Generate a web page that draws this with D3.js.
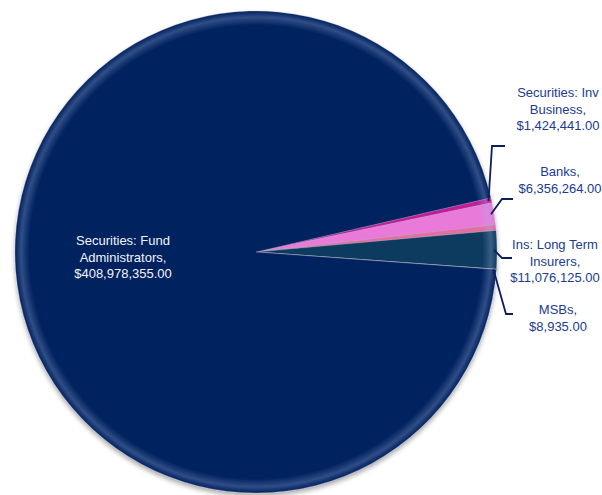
<!DOCTYPE html>
<html>
<head>
<meta charset="utf-8">
<script src="https://cdn.jsdelivr.net/npm/d3@7"></script>
<style>
  body { margin: 0; background: #fff; }
  svg { display: block; font-family: "Liberation Sans", Arial, sans-serif; }
</style>
</head>
<body>
<div id="chart"></div>
<script>
// data
var categories = ["Securities: Inv Business", "Banks", "Other", "Ins: Long Term Insurers", "MSBs", "Securities: Fund Administrators"],
    labelLines = [["Securities: Inv", "Business,"], ["Banks,"], [], ["Ins: Long Term", "Insurers,"], ["MSBs,"], ["Securities: Fund", "Administrators,"]],
    values = [1424441, 6356264, 1600000, 11076125, 8935, 408978355],
    colors = ["#c21a9c", "#ea7ad9", "#e46ea0", "#0b3b5e", "#8c93a6", "#03205e"];

var width = 602, height = 495,
    cx = 256, cy = 252, radius = 241;

// label layout: text centre x, first line y, leader line points after the rim
var labelLayout = [
    {x: 558, y: 97, leader: [[492, 146], [505, 146]]},
    {x: 560, y: 176, leader: [[502, 199], [513, 199]]},
    null,
    {x: 555, y: 249, leader: [[502, 258], [512, 258]]},
    {x: 558, y: 314, leader: [[506, 314], [513, 314]]},
    {x: 123, y: 245, inside: true}
];

var money = d3.format("$,.2f");

var svg = d3.select("#chart").append("svg")
    .attr("width", width)
    .attr("height", height);

var defs = svg.append("defs");
var shadow = defs.append("filter").attr("id", "shadow")
    .attr("x", "-10%").attr("y", "-10%").attr("width", "120%").attr("height", "120%");
shadow.append("feGaussianBlur").attr("in", "SourceAlpha").attr("stdDeviation", 2.5);
shadow.append("feOffset").attr("dx", 0).attr("dy", 2.5).attr("result", "off");
shadow.append("feComponentTransfer").append("feFuncA").attr("type", "linear").attr("slope", 0.35);
var merge = shadow.append("feMerge");
merge.append("feMergeNode");
merge.append("feMergeNode").attr("in", "SourceGraphic");

// soft bevel highlight near the rim (centred on pie centre)
var rim = defs.append("radialGradient").attr("id", "rim")
    .attr("cx", 0).attr("cy", 0).attr("r", radius).attr("gradientUnits", "userSpaceOnUse");
rim.append("stop").attr("offset", "0.94").attr("stop-color", "#9fb2e0").attr("stop-opacity", 0);
rim.append("stop").attr("offset", "0.975").attr("stop-color", "#9fb2e0").attr("stop-opacity", 0.3);
rim.append("stop").attr("offset", "1").attr("stop-color", "#9fb2e0").attr("stop-opacity", 0);

var data = categories.map(function(c, i) {
    return {name: c, lines: labelLines[i], value: values[i], color: colors[i], layout: labelLayout[i]};
});

var start = 77 * Math.PI / 180;
var pie = d3.pie()
    .sort(null)
    .value(function(d) { return d.value; })
    .startAngle(start)
    .endAngle(start + 2 * Math.PI);

var arc = d3.arc().innerRadius(0).outerRadius(radius);
var arcs = pie(data);

var g = svg.append("g").attr("transform", "translate(" + cx + "," + cy + ")");

var pieG = g.append("g").attr("filter", "url(#shadow)");
pieG.selectAll("path.slice")
    .data(arcs)
    .enter().append("path")
    .attr("class", "slice")
    .attr("d", arc)
    .attr("fill", function(d) { return d.data.color; })
    .attr("stroke", function(d) { return d.data.name == "MSBs" ? "#a7adbd" : "rgba(170,175,200,0.5)"; })
    .attr("stroke-width", function(d) { return d.data.name == "MSBs" ? 1.2 : 0.6; });

// rim highlight overlay
g.append("circle")
    .attr("r", radius)
    .attr("fill", "url(#rim)")
    .attr("pointer-events", "none");

// leader lines
arcs.forEach(function(a) {
    var L = a.data.layout;
    if (!L || L.inside) return;
    var mid = (a.startAngle + a.endAngle) / 2;
    var p0 = [cx + Math.sin(mid) * (radius - 3), cy - Math.cos(mid) * (radius - 3)];
    svg.append("path")
        .attr("d", d3.line()([p0].concat(L.leader)))
        .attr("fill", "none")
        .attr("stroke", "#0c1f5c")
        .attr("stroke-width", 1.8);
});

// labels
arcs.forEach(function(a) {
    var L = a.data.layout;
    if (!L) return;
    var lines = a.data.lines.concat([money(a.data.value)]);
    var t = svg.append("text")
        .attr("text-anchor", "middle")
        .attr("font-size", 13)
        .attr("fill", L.inside ? "#f2f4fa" : "#203c8e");
    lines.forEach(function(s, i) {
        t.append("tspan").attr("x", L.x).attr("y", L.y + i * 16.5).text(s);
    });
});
</script>
</body>
</html>
